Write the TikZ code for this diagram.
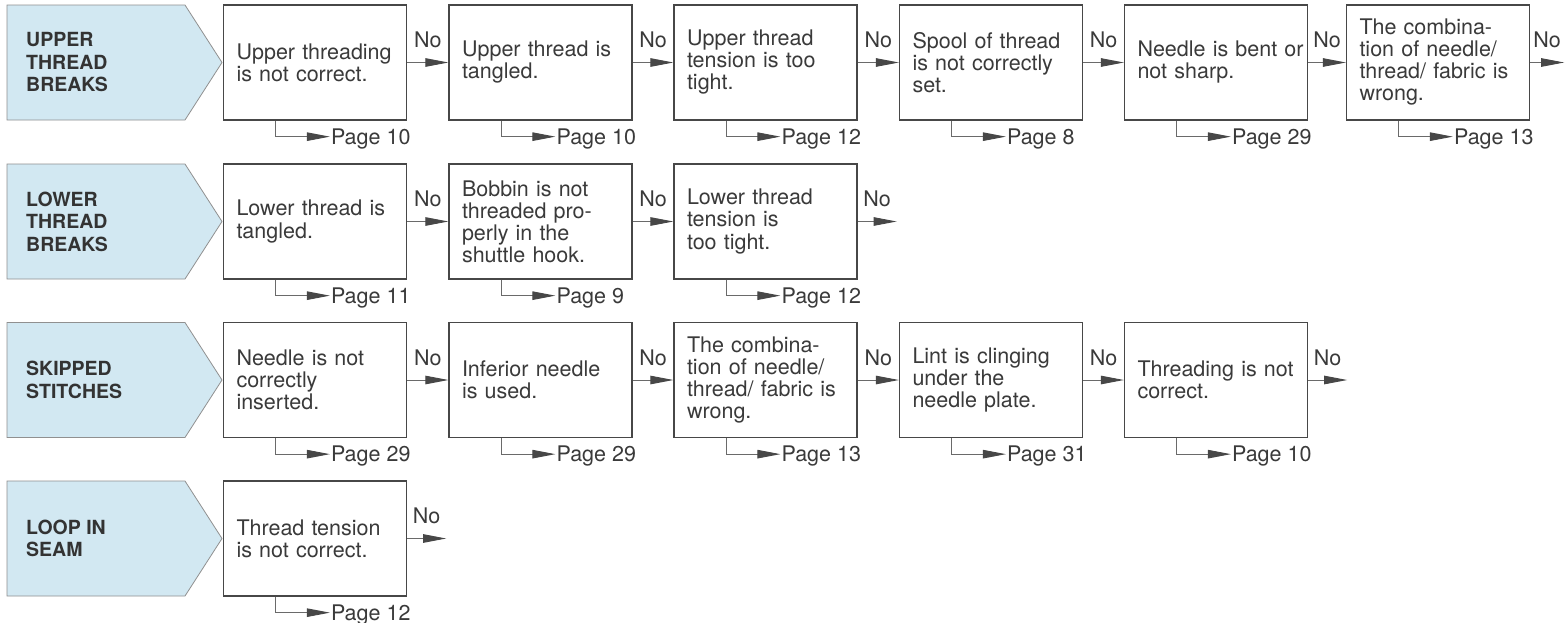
\documentclass[tikz,border=0pt]{standalone}
\usepackage{fontspec}
\setmainfont{TeX Gyre Heros}
\usetikzlibrary{arrows.meta,calc}
\definecolor{boxc}{HTML}{474747}
\definecolor{txtc}{HTML}{3A3A3A}
\definecolor{pentfill}{HTML}{D2E8F2}
\definecolor{pentdraw}{HTML}{909090}
\definecolor{linec}{HTML}{6A6A6A}
\definecolor{headc}{HTML}{333333}
\newcommand{\bodyfont}{\fontsize{21.5}{22}\selectfont}
\newcommand{\headfont}{\fontsize{19.5}{22.5}\selectfont\bfseries}
\tikzset{
  box/.style={draw=boxc, line width=1.3pt, minimum width=183pt, minimum height=115pt,
    inner xsep=13pt, text width=157pt, align=left, font=\bodyfont, text=txtc},
  pent/.style={draw=pentdraw, fill=pentfill, line width=0.8pt, line join=miter},
  headlbl/.style={anchor=west, align=left, font=\headfont, text=headc, inner sep=0pt},
  conn/.style={draw=linec, line width=0.9pt, -{Triangle[length=23pt,width=8.5pt,color=boxc]}},
  nolbl/.style={midway, above=14pt, inner sep=0pt, font=\bodyfont, text=txtc},
  pagelbl/.style={anchor=west, inner xsep=1pt, inner ysep=0pt, text depth=0pt, font=\bodyfont, text=txtc},
}
\begin{document}
\begin{tikzpicture}[x=1pt,y=-1pt]
\useasboundingbox[fill=white] (0,0) rectangle (1566,622);

% ---------- headings ----------
\draw[pent] (7,5) -- (185,5) -- (222,62.5) -- (185,120) -- (7,120) -- cycle;
\node[headlbl] (h1) at (26,62.5) {UPPER\\THREAD\\BREAKS};
\draw[pent] (7,164) -- (185,164) -- (222,221.5) -- (185,279) -- (7,279) -- cycle;
\node[headlbl] (h2) at (26,221.5) {LOWER\\THREAD\\BREAKS};
\draw[pent] (7,322.5) -- (185,322.5) -- (222,380) -- (185,437.5) -- (7,437.5) -- cycle;
\node[headlbl] (h3) at (26,380) {SKIPPED\\STITCHES};
\draw[pent] (7,481) -- (185,481) -- (222,538.5) -- (185,596) -- (7,596) -- cycle;
\node[headlbl] (h4) at (26,538.5) {LOOP IN\\SEAM};

% ---------- row 1 ----------
\node[box] (r1b1) at (315,62.5)  {Upper threading\\is not correct.};
\node[box] (r1b2) at (540.5,62.5) {Upper thread is\\tangled.};
\node[box] (r1b3) at (765.5,62.5) {Upper thread\\tension is too\\tight.};
\node[box] (r1b4) at (991,62.5)  {Spool of thread\\is not correctly\\set.};
\node[box] (r1b5) at (1216,62.5) {Needle~is~bent~or\\not sharp.};
\node[box] (r1b6) at (1438,62.5) {The combina-\\tion of needle/\\thread/ fabric is\\wrong.};
\coordinate (r1e) at ($(r1b6.east)+(34,0)$);
\draw[conn] (r1b1) -- node[nolbl] {No} (r1b2);
\draw[conn] (r1b2) -- node[nolbl] {No} (r1b3);
\draw[conn] (r1b3) -- node[nolbl] {No} (r1b4);
\draw[conn] (r1b4) -- node[nolbl] {No} (r1b5);
\draw[conn] (r1b5) -- node[nolbl] {No} (r1b6);
\draw[conn] (r1b6.east) -- node[nolbl] {No} (r1e);
\node[pagelbl] (r1p1) at ($(r1b1.south west)+(107,16)$) {Page 10};
\node[pagelbl] (r1p2) at ($(r1b2.south west)+(107,16)$) {Page 10};
\node[pagelbl] (r1p3) at ($(r1b3.south west)+(107,16)$) {Page 12};
\node[pagelbl] (r1p4) at ($(r1b4.south west)+(107,16)$) {Page 8};
\node[pagelbl] (r1p5) at ($(r1b5.south west)+(107,16)$) {Page 29};
\node[pagelbl] (r1p6) at ($(r1b6.south west)+(107,16)$) {Page 13};
\draw[conn] ($(r1b1.south west)+(53,0)$) |- (r1p1);
\draw[conn] ($(r1b2.south west)+(53,0)$) |- (r1p2);
\draw[conn] ($(r1b3.south west)+(53,0)$) |- (r1p3);
\draw[conn] ($(r1b4.south west)+(53,0)$) |- (r1p4);
\draw[conn] ($(r1b5.south west)+(53,0)$) |- (r1p5);
\draw[conn] ($(r1b6.south west)+(53,0)$) |- (r1p6);

% ---------- row 2 ----------
\node[box] (r2b1) at (315,221.5)  {Lower thread is\\tangled.};
\node[box] (r2b2) at (540.5,221.5) {Bobbin is not\\threaded pro-\\perly in the\\shuttle hook.};
\node[box] (r2b3) at (765.5,221.5) {Lower thread\\tension is\\too tight.};
\coordinate (r2e) at ($(r2b3.east)+(39,0)$);
\draw[conn] (r2b1) -- node[nolbl] {No} (r2b2);
\draw[conn] (r2b2) -- node[nolbl] {No} (r2b3);
\draw[conn] (r2b3.east) -- node[nolbl] {No} (r2e);
\node[pagelbl] (r2p1) at ($(r2b1.south west)+(107,16)$) {Page 11};
\node[pagelbl] (r2p2) at ($(r2b2.south west)+(107,16)$) {Page 9};
\node[pagelbl] (r2p3) at ($(r2b3.south west)+(107,16)$) {Page 12};
\draw[conn] ($(r2b1.south west)+(53,0)$) |- (r2p1);
\draw[conn] ($(r2b2.south west)+(53,0)$) |- (r2p2);
\draw[conn] ($(r2b3.south west)+(53,0)$) |- (r2p3);

% ---------- row 3 ----------
\node[box] (r3b1) at (315,380)  {Needle is not\\correctly\\inserted.};
\node[box] (r3b2) at (540.5,380) {Inferior needle\\is used.};
\node[box] (r3b3) at (765.5,380) {The combina-\\tion of needle/\\thread/ fabric is\\wrong.};
\node[box] (r3b4) at (991,380)  {Lint is clinging\\under the\\needle plate.};
\node[box] (r3b5) at (1216,380) {Threading is not\\correct.};
\coordinate (r3e) at ($(r3b5.east)+(39,0)$);
\draw[conn] (r3b1) -- node[nolbl] {No} (r3b2);
\draw[conn] (r3b2) -- node[nolbl] {No} (r3b3);
\draw[conn] (r3b3) -- node[nolbl] {No} (r3b4);
\draw[conn] (r3b4) -- node[nolbl] {No} (r3b5);
\draw[conn] (r3b5.east) -- node[nolbl] {No} (r3e);
\node[pagelbl] (r3p1) at ($(r3b1.south west)+(107,16)$) {Page 29};
\node[pagelbl] (r3p2) at ($(r3b2.south west)+(107,16)$) {Page 29};
\node[pagelbl] (r3p3) at ($(r3b3.south west)+(107,16)$) {Page 13};
\node[pagelbl] (r3p4) at ($(r3b4.south west)+(107,16)$) {Page 31};
\node[pagelbl] (r3p5) at ($(r3b5.south west)+(107,16)$) {Page 10};
\draw[conn] ($(r3b1.south west)+(53,0)$) |- (r3p1);
\draw[conn] ($(r3b2.south west)+(53,0)$) |- (r3p2);
\draw[conn] ($(r3b3.south west)+(53,0)$) |- (r3p3);
\draw[conn] ($(r3b4.south west)+(53,0)$) |- (r3p4);
\draw[conn] ($(r3b5.south west)+(53,0)$) |- (r3p5);

% ---------- row 4 ----------
\node[box] (r4b1) at (315,538.5) {Thread tension\\is not correct.};
\coordinate (r4e) at ($(r4b1.east)+(39,0)$);
\draw[conn] (r4b1.east) -- node[nolbl] {No} (r4e);
\node[pagelbl] (r4p1) at ($(r4b1.south west)+(107,16)$) {Page 12};
\draw[conn] ($(r4b1.south west)+(53,0)$) |- (r4p1);
\end{tikzpicture}
\end{document}
